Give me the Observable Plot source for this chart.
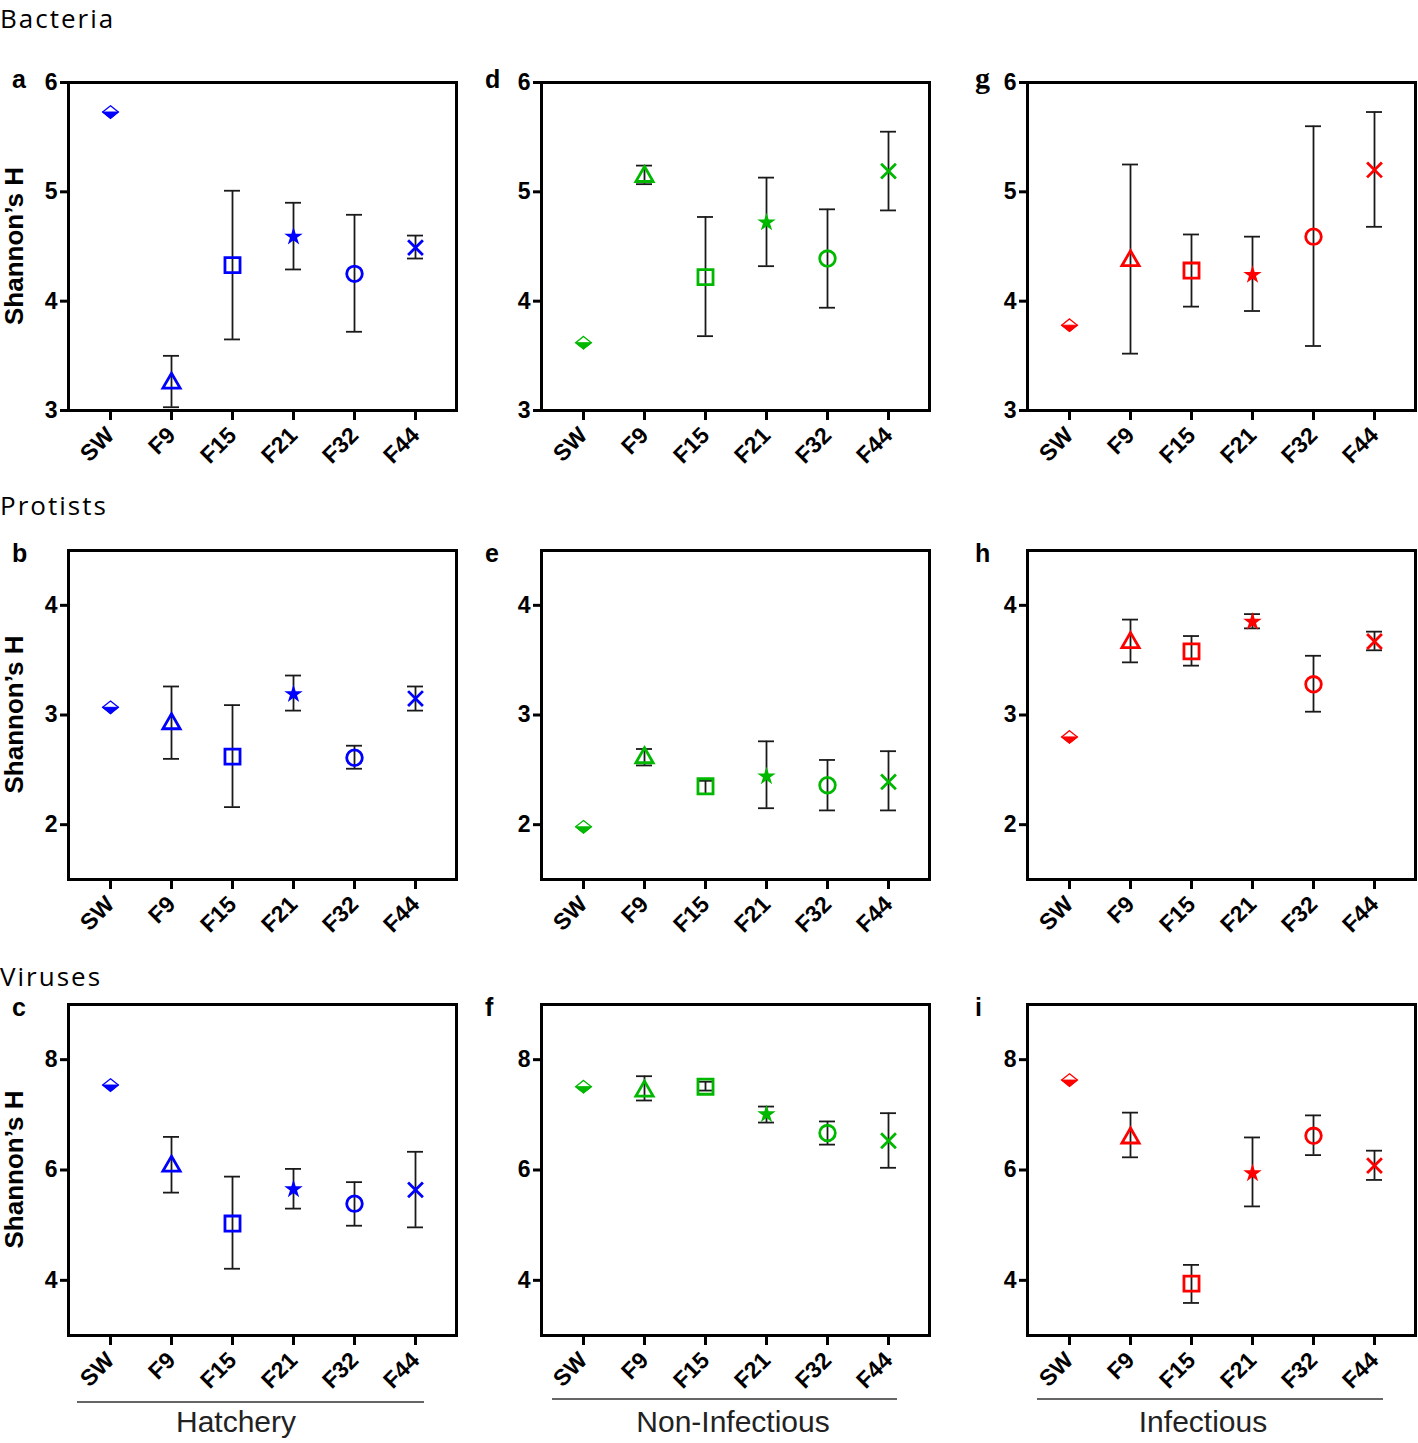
<!DOCTYPE html>
<html>
<head>
<meta charset="utf-8">
<script src="https://cdn.jsdelivr.net/npm/d3@7"></script>
<script src="https://cdn.jsdelivr.net/npm/@observablehq/plot@0.6"></script>
<style>
  body { margin: 0; background: #fff; }
  #root { position: relative; width: 1418px; height: 1443px; overflow: hidden; background: #fff; }
  #root .panel { position: absolute; }
  #root .panel text { font-family: 'Liberation Sans', Arial, sans-serif; font-weight: bold; font-size: 23px; }
  #overlay { position: absolute; left: 0; top: 0; pointer-events: none; }
</style>
</head>
<body>
<div id="root"></div>
<script>
// ---------- categories ----------
const groups = ["SW", "F9", "F15", "F21", "F32", "F44"];

// ---------- Bacteria ----------
const bactHatcheryMean = [5.73, 3.25, 4.33, 4.59, 4.25, 4.49];
const bactHatcheryLow  = [null, 3.03, 3.65, 4.29, 3.72, 4.39];
const bactHatcheryHigh = [null, 3.50, 5.01, 4.90, 4.79, 4.60];

const bactNonInfMean = [3.62, 5.14, 4.22, 4.72, 4.39, 5.19];
const bactNonInfLow  = [null, 5.07, 3.68, 4.32, 3.94, 4.83];
const bactNonInfHigh = [null, 5.24, 4.77, 5.13, 4.84, 5.55];

const bactInfMean = [3.78, 4.37, 4.28, 4.24, 4.59, 5.20];
const bactInfLow  = [null, 3.52, 3.95, 3.91, 3.59, 4.68];
const bactInfHigh = [null, 5.25, 4.61, 4.59, 5.60, 5.73];

// ---------- Protists ----------
const protHatcheryMean = [3.07, 2.92, 2.62, 3.19, 2.61, 3.15];
const protHatcheryLow  = [null, 2.60, 2.16, 3.04, 2.51, 3.04];
const protHatcheryHigh = [null, 3.26, 3.09, 3.36, 2.72, 3.26];

const protNonInfMean = [1.98, 2.61, 2.35, 2.44, 2.36, 2.39];
const protNonInfLow  = [null, 2.54, 2.28, 2.15, 2.13, 2.13];
const protNonInfHigh = [null, 2.69, 2.40, 2.76, 2.59, 2.67];

const protInfMean = [2.80, 3.66, 3.58, 3.85, 3.28, 3.67];
const protInfLow  = [null, 3.48, 3.45, 3.79, 3.03, 3.59];
const protInfHigh = [null, 3.87, 3.72, 3.92, 3.54, 3.76];

// ---------- Viruses ----------
const virHatcheryMean = [7.54, 6.07, 5.03, 5.65, 5.39, 5.64];
const virHatcheryLow  = [null, 5.59, 4.21, 5.30, 4.99, 4.96];
const virHatcheryHigh = [null, 6.60, 5.88, 6.02, 5.78, 6.33];

const virNonInfMean = [7.51, 7.43, 7.51, 7.01, 6.67, 6.53];
const virNonInfLow  = [null, 7.26, 7.44, 6.86, 6.46, 6.04];
const virNonInfHigh = [null, 7.70, 7.60, 7.15, 6.88, 7.03];

const virInfMean = [7.63, 6.58, 3.94, 5.94, 6.62, 6.08];
const virInfLow  = [null, 6.23, 3.59, 5.34, 6.27, 5.82];
const virInfHigh = [null, 7.04, 4.28, 6.59, 6.99, 6.35];

// ---------- labels / axes ----------
const rowTitles = ["Bacteria", "Protists", "Viruses"];
const panelLetters = [["a", "d", "g"], ["b", "e", "h"], ["c", "f", "i"]];
const yDomains = [[3, 6], [1.5, 4.5], [3, 9]];
const yTickValues = [[3, 4, 5, 6], [2, 3, 4], [4, 6, 8]];
const conditionLabels = ["Hatchery", "Non-Infectious", "Infectious"];
const yAxisTitle = "Shannon’s H";

// ---------- styling (not data) ----------
const conditionColors = ["#0000ff", "#00b800", "#ff0000"];
const colLeft = [0, 473, 959];
const rowTop = [40, 508, 962];
const frameHeights = [328, 329, 331];
const PW = 470, ML = 68, MR = 14, MT = 42, MB = 70;
const tickFont = "'Liberation Sans', Arial, sans-serif";

const series = [
  [[bactHatcheryMean, bactHatcheryLow, bactHatcheryHigh], [bactNonInfMean, bactNonInfLow, bactNonInfHigh], [bactInfMean, bactInfLow, bactInfHigh]],
  [[protHatcheryMean, protHatcheryLow, protHatcheryHigh], [protNonInfMean, protNonInfLow, protNonInfHigh], [protInfMean, protInfLow, protInfHigh]],
  [[virHatcheryMean, virHatcheryLow, virHatcheryHigh], [virNonInfMean, virNonInfLow, virNonInfHigh], [virInfMean, virInfLow, virInfHigh]]
];

// custom half-filled diamond symbol pieces
const diamondOutline = {
  draw(ctx, size) {
    const r = Math.sqrt(size / Math.PI), w = r * 1.25, h = r;
    ctx.moveTo(0, -h); ctx.lineTo(w, 0); ctx.lineTo(0, h); ctx.lineTo(-w, 0); ctx.closePath();
  }
};
const diamondLower = {
  draw(ctx, size) {
    const r = Math.sqrt(size / Math.PI), w = r * 1.25, h = r;
    ctx.moveTo(-w, 0); ctx.lineTo(w, 0); ctx.lineTo(0, h); ctx.closePath();
  }
};

function markerMarks(data, color) {
  const at = g => data.filter(d => d.g === g);
  const opts = {x: "g", y: "v"};
  return [
    Plot.dot(at("SW"), {...opts, symbol: diamondOutline, r: 6.3, fill: "white", stroke: color, strokeWidth: 1.3}),
    Plot.dot(at("SW"), {...opts, symbol: diamondLower, r: 6.3, fill: color, stroke: color, strokeWidth: 1}),
    Plot.dot(at("F9"), {...opts, symbol: "triangle", r: 6.4, fill: "none", stroke: color, strokeWidth: 2.8}),
    Plot.dot(at("F15"), {...opts, symbol: "square", r: 8.5, fill: "none", stroke: color, strokeWidth: 2.8}),
    Plot.dot(at("F21"), {...opts, symbol: "star", r: 5.8, fill: color, stroke: "none"}),
    Plot.dot(at("F32"), {...opts, symbol: "circle", r: 7.8, fill: "none", stroke: color, strokeWidth: 2.8}),
    Plot.dot(at("F44"), {...opts, symbol: "times", r: 6.8, fill: "none", stroke: color, strokeWidth: 2.8})
  ];
}

function makePanel(row, col) {
  const [mean, low, high] = series[row][col];
  const color = conditionColors[col];
  const data = groups.map((g, i) => ({g, v: mean[i], lo: low[i], hi: high[i]}));
  const err = data.filter(d => d.lo != null && d.hi != null);
  const errStyle = {stroke: "#1a1a1a", strokeWidth: 1.8};
  return Plot.plot({
    width: PW,
    height: MT + frameHeights[row] + MB,
    marginLeft: ML, marginRight: MR, marginTop: MT, marginBottom: MB,
    x: {type: "band", domain: groups, paddingInner: 0.74, paddingOuter: 0.55, align: 0.5},
    y: {domain: yDomains[row]},
    style: {background: "transparent", overflow: "visible", fontFamily: tickFont, fontSize: "23px", fontWeight: "bold", color: "black"},
    marks: [
      Plot.axisY({ticks: yTickValues[row], tickSize: 8, tickPadding: 3, strokeWidth: 3, fontSize: 23, fontWeight: "bold", label: null, tickFormat: d => String(d)}),
      Plot.axisX({tickRotate: -45, tickSize: 10, tickPadding: 11, strokeWidth: 3, fontSize: 23, fontWeight: "bold", label: null}),
      Plot.frame({stroke: "black", strokeWidth: 3}),
      Plot.ruleX(err, {x: "g", y1: "lo", y2: "hi", ...errStyle}),
      Plot.tickY(err, {x: "g", y: "lo", ...errStyle}),
      Plot.tickY(err, {x: "g", y: "hi", ...errStyle}),
      ...markerMarks(data, color)
    ]
  });
}

const root = document.getElementById("root");
for (let r = 0; r < 3; r++) {
  for (let c = 0; c < 3; c++) {
    const p = makePanel(r, c);
    p.classList.add("panel");
    p.style.left = colLeft[c] + "px";
    p.style.top = rowTop[r] + "px";
    root.appendChild(p);
  }
}

// ---------- annotation overlay: titles, letters, y titles, group labels ----------
const svg = d3.select(root).append("svg")
  .attr("id", "overlay").attr("width", 1418).attr("height", 1443);

const titleBaselines = [28, 515, 986];
rowTitles.forEach((t, i) => {
  svg.append("text").attr("x", 0).attr("y", titleBaselines[i])
    .attr("font-family", "'Open Sans', sans-serif").attr("font-size", 26)
    .attr("letter-spacing", 2).text(t);
});

const letterX = [12, 485, 975];
const letterBaselines = [88, 562, 1016];
panelLetters.forEach((rowL, r) => rowL.forEach((L, c) => {
  svg.append("text").attr("x", letterX[c]).attr("y", letterBaselines[r])
    .attr("font-family", L === "g" ? "'Liberation Serif', serif" : tickFont)
    .attr("font-weight", "bold").attr("font-size", L === "g" ? 30 : 25).text(L);
}));

for (let r = 0; r < 3; r++) {
  const cy = rowTop[r] + MT + frameHeights[r] / 2;
  svg.append("text").attr("transform", `translate(23,${cy}) rotate(-90)`)
    .attr("text-anchor", "middle").attr("font-family", tickFont)
    .attr("font-weight", "bold").attr("font-size", 26).text(yAxisTitle);
}

const groupLineX = [[77, 424], [552, 897], [1037, 1383]];
const groupLineY = [1402, 1399, 1399];
const groupTextX = [236, 733, 1203];
conditionLabels.forEach((t, i) => {
  svg.append("line").attr("x1", groupLineX[i][0]).attr("x2", groupLineX[i][1])
    .attr("y1", groupLineY[i]).attr("y2", groupLineY[i])
    .attr("stroke", "#333").attr("stroke-width", 1.6);
  svg.append("text").attr("x", groupTextX[i]).attr("y", 1432)
    .attr("text-anchor", "middle").attr("font-family", tickFont)
    .attr("font-size", 30).attr("fill", "#222").text(t);
});
</script>
</body>
</html>
